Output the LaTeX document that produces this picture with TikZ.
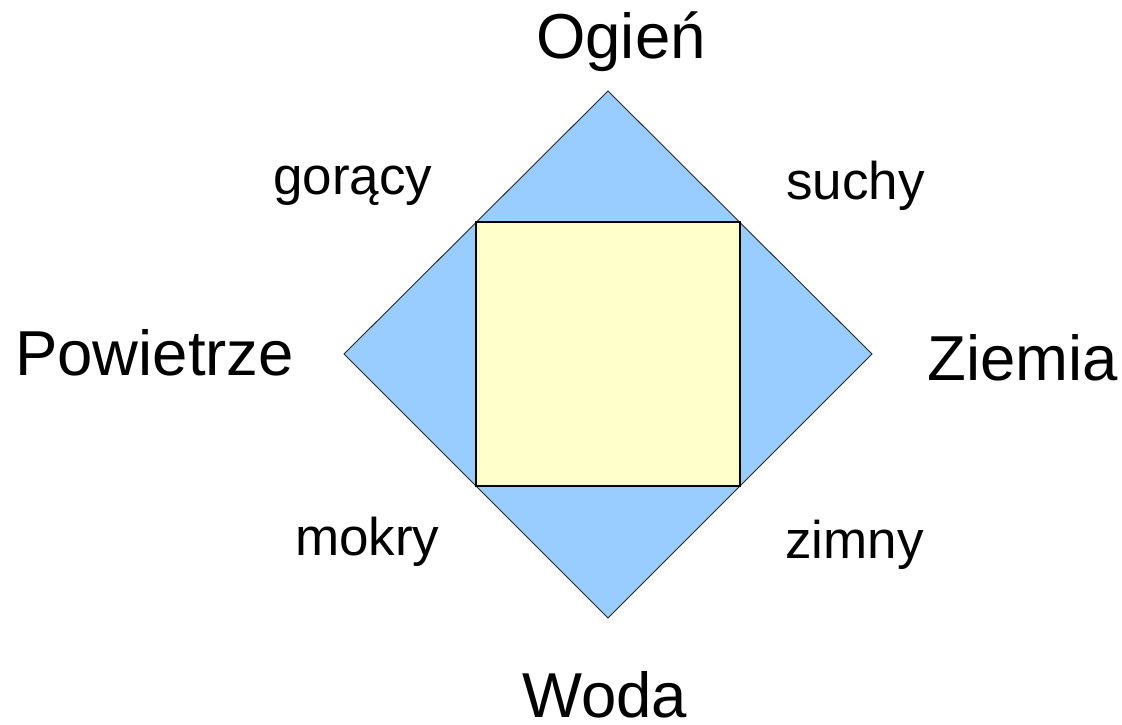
\documentclass[tikz,border=0pt]{standalone}
\usepackage{fontspec}
\setmainfont{Liberation Sans}
\definecolor{dblue}{HTML}{99CCFF}
\definecolor{syellow}{HTML}{FFFFCC}
\begin{document}
\begin{tikzpicture}[x=1pt,y=-1pt,
  big/.style={inner sep=0pt,anchor=base west,font=\fontsize{63.5}{70}\selectfont},
  small/.style={inner sep=0pt,anchor=base west,font=\fontsize{53}{60}\selectfont}]
\useasboundingbox (0,0) rectangle (1122,724);
\coordinate (T) at (608,91);
\coordinate (R) at (872,354);
\coordinate (B) at (608,618);
\coordinate (L) at (344,354);
\draw[fill=dblue,draw=black!85,line width=0.9pt] (T) -- (R) -- (B) -- (L) -- cycle;
\draw[fill=syellow,draw=black,line width=1.2pt] (476,222) rectangle (740,486);
\node[big] (ogien) at (536,58) {Ogień};
\node[big] (woda) at (522,717) {Woda};
\node[big] (pow) at (15,375) {Powietrze};
\node[big] (ziemia) at (927,380) {Ziemia};
\node[small] (goracy) at (273,194) {gorący};
\node[small] (suchy) at (786,199) {suchy};
\node[small] (mokry) at (295,555) {mokry};
\node[small] (zimny) at (785,558) {zimny};
\end{tikzpicture}
\end{document}
